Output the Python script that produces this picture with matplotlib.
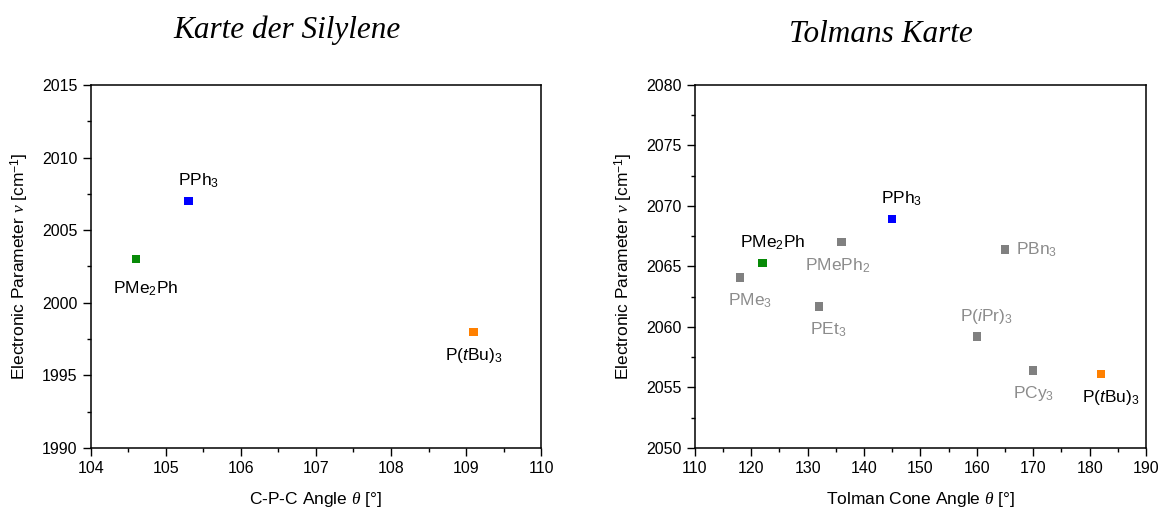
import matplotlib.pyplot as plt
from matplotlib.ticker import MultipleLocator

plt.rcParams['font.family'] = ['Liberation Sans', 'DejaVu Sans']
plt.rcParams['mathtext.fontset'] = 'custom'
plt.rcParams['mathtext.rm'] = 'Liberation Sans'
plt.rcParams['mathtext.sf'] = 'Liberation Sans:italic'
plt.rcParams['mathtext.it'] = 'Liberation Serif:italic'

# Karte der Silylene
sil_names = ['PMe$_2$Ph', 'PPh$_3$', r'P($\mathsf{t}$Bu)$_3$']
sil_angle = [104.6, 105.3, 109.1]
sil_nu = [2003.0, 2007.0, 1998.0]
sil_colors = ['#078a07', '#0000ff', '#ff8000']

# Tolmans Karte
tol_names = ['PMe$_3$', 'PMe$_2$Ph', 'PEt$_3$', 'PMePh$_2$', 'PPh$_3$',
             r'P($\mathsf{i}$Pr)$_3$', 'PBn$_3$', 'PCy$_3$', r'P($\mathsf{t}$Bu)$_3$']
tol_angle = [118, 122, 132, 136, 145, 160, 165, 170, 182]
tol_nu = [2064.1, 2065.3, 2061.7, 2067.0, 2068.9, 2059.2, 2066.4, 2056.4, 2056.1]
tol_colors = ['#808080', '#078a07', '#808080', '#808080', '#0000ff',
              '#808080', '#808080', '#808080', '#ff8000']

# label offsets (points) and alignment
sil_off = [((7, -15), 'center', 'top'), ((7, 8), 'center', 'bottom'), ((0, -10), 'center', 'top')]
tol_off = [((7, -10), 'center', 'top'), ((7, 8), 'center', 'bottom'), ((7, -10), 'center', 'top'),
           ((-3, -10), 'center', 'top'), ((7, 8), 'center', 'bottom'), ((7, 8), 'center', 'bottom'),
           ((8, 0), 'left', 'center'), ((0, -10), 'center', 'top'), ((7, -10), 'center', 'top')]


def style_axes(ax):
    ax.tick_params(which='both', direction='out', top=False, right=False, labelsize=11.5, width=1)
    ax.tick_params(which='major', length=6)
    ax.tick_params(which='minor', length=3)
    for s in ax.spines.values():
        s.set_linewidth(1.1)


def draw(ax, names, xs, ys, colors, offs):
    ax.scatter(xs, ys, marker='s', s=36, c=colors, zorder=3, linewidths=0)
    for n, x, y, c, (off, ha, va) in zip(names, xs, ys, colors, offs):
        tc = 'black' if c != '#808080' else '#8c8c8c'
        ax.annotate(n, (x, y), xytext=off, textcoords='offset points',
                    ha=ha, va=va, fontsize=12.5, color=tc)


fig = plt.figure(figsize=(11.6, 5.07), dpi=100)
ax1 = fig.add_axes([0.0784, 0.1164, 0.388, 0.716])
ax2 = fig.add_axes([0.599, 0.1164, 0.389, 0.716])

draw(ax1, sil_names, sil_angle, sil_nu, sil_colors, sil_off)
ax1.set_xlim(104, 110)
ax1.set_ylim(1990, 2015)
ax1.xaxis.set_major_locator(MultipleLocator(1))
ax1.xaxis.set_minor_locator(MultipleLocator(0.5))
ax1.yaxis.set_major_locator(MultipleLocator(5))
ax1.yaxis.set_minor_locator(MultipleLocator(2.5))
ax1.set_xlabel(r'C-P-C Angle $\theta$ [°]', fontsize=12.5, labelpad=10)
ax1.set_ylabel(r'Electronic Parameter $\nu$ [cm$^{-1}$]', fontsize=12.5, labelpad=8)
style_axes(ax1)

draw(ax2, tol_names, tol_angle, tol_nu, tol_colors, tol_off)
ax2.set_xlim(110, 190)
ax2.set_ylim(2050, 2080)
ax2.xaxis.set_major_locator(MultipleLocator(10))
ax2.xaxis.set_minor_locator(MultipleLocator(5))
ax2.yaxis.set_major_locator(MultipleLocator(5))
ax2.yaxis.set_minor_locator(MultipleLocator(2.5))
ax2.set_xlabel(r'Tolman Cone Angle $\theta$ [°]', fontsize=12.5, labelpad=10)
ax2.set_ylabel(r'Electronic Parameter $\nu$ [cm$^{-1}$]', fontsize=12.5, labelpad=8)
style_axes(ax2)

fig.text(0.247, 0.941, 'Karte der Silylene', ha='center', va='center',
         fontsize=22.5, style='italic', family=['Liberation Serif', 'DejaVu Serif'])
fig.text(0.759, 0.931, 'Tolmans Karte', ha='center', va='center',
         fontsize=22.5, style='italic', family=['Liberation Serif', 'DejaVu Serif'])

fig.savefig('out.png', dpi=100)
